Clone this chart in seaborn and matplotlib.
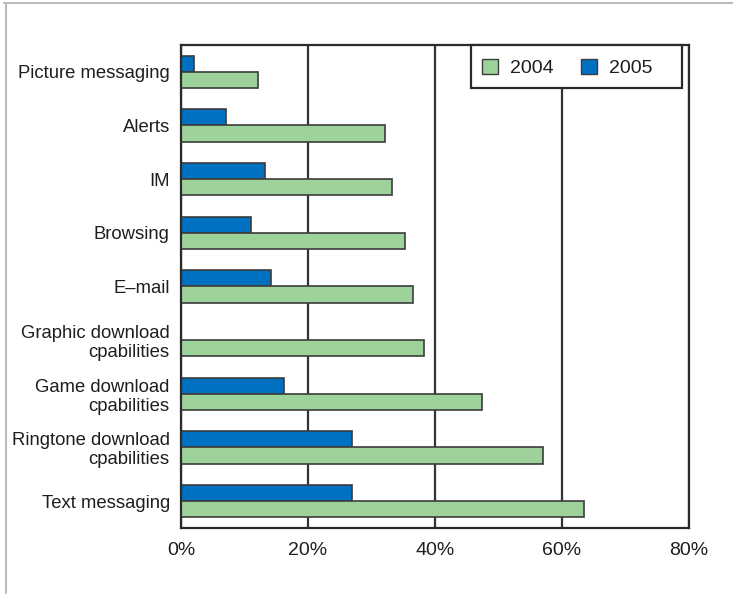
import numpy as np
import pandas as pd
import matplotlib
matplotlib.use("Agg")
import matplotlib.pyplot as plt
from matplotlib.patches import Patch, Rectangle
from matplotlib.lines import Line2D
import seaborn as sns

# Mobile data services usage, share of users
features = [
    "Picture messaging",
    "Alerts",
    "IM",
    "Browsing",
    "E–mail",
    "Graphic download\ncpabilities",
    "Game download\ncpabilities",
    "Ringtone download\ncpabilities",
    "Text messaging",
]
share_2004 = [12.2, 32.2, 33.2, 35.2, 36.5, 38.2, 47.4, 57.0, 63.4]
share_2005 = [2.0, 7.1, 13.2, 11.0, 14.1, np.nan, 16.2, 27.0, 27.0]
years = ["2004", "2005"]
x_ticks = [0, 20, 40, 60, 80]
x_tick_labels = ["0%", "20%", "40%", "60%", "80%"]

GREEN = "#9dd39b"
BLUE = "#0070c0"
EDGE = "#3c3c3c"
INK = "#1e1e1e"
FRAME = "#2a2a2a"

df = pd.DataFrame({
    "feature": features * 2,
    "year": [years[0]] * len(features) + [years[1]] * len(features),
    "share": share_2004 + share_2005,
}).dropna()

sns.set_style("white")
plt.rcParams["font.family"] = ["Liberation Sans", "DejaVu Sans"]

fig = plt.figure(figsize=(7.33, 5.95), dpi=100)
ax = fig.add_axes([0.2469, 0.1126, 0.6931, 0.8118])

sns.barplot(
    data=df, x="share", y="feature", hue="year",
    order=features, hue_order=["2005", "2004"],
    palette={"2004": GREEN, "2005": BLUE}, saturation=1,
    width=0.6, edgecolor=EDGE, linewidth=1.2,
    errorbar=None, orient="h", legend=False, ax=ax,
)

ax.set_xlim(0, 80)
ax.set_xticks(x_ticks)
ax.set_xticklabels(x_tick_labels)
ax.set_xlabel("")
ax.set_ylabel("")
ax.set_axisbelow(True)
ax.grid(axis="x", color="#333333", linewidth=1.6)
ax.grid(axis="y", visible=False)
for side in ["left", "right", "top", "bottom"]:
    ax.spines[side].set_visible(True)
    ax.spines[side].set_color(FRAME)
    ax.spines[side].set_linewidth(1.6)

ax.tick_params(axis="x", length=0, pad=10, labelsize=14, labelcolor=INK)
ax.tick_params(axis="y", length=0, pad=8, labelsize=13.3, labelcolor=INK)
for lab in ax.get_yticklabels():
    lab.set_horizontalalignment("right")
    lab.set_multialignment("right")
    lab.set_linespacing(1.15)

# legend box (opaque, covers the gridline behind it)
ax.add_patch(Rectangle((0.571, 0.910), 0.415, 0.090, transform=ax.transAxes,
                       facecolor="white", edgecolor=FRAME, linewidth=1.6,
                       zorder=4, clip_on=False))
handles = [
    Patch(facecolor=GREEN, edgecolor=EDGE, linewidth=1.0, label="2004"),
    Patch(facecolor=BLUE, edgecolor=EDGE, linewidth=1.0, label="2005"),
]
leg = ax.legend(
    handles=handles, loc="center left", bbox_to_anchor=(0.592, 0.952),
    ncol=2, frameon=False, borderaxespad=0, borderpad=0,
    fontsize=14, handlelength=0.82, handleheight=0.85, handletextpad=0.62,
    columnspacing=1.4,
)
leg.set_zorder(5)
for t in leg.get_texts():
    t.set_color(INK)

# thin grey frame along the top and left edges of the figure
fig.add_artist(Line2D([4 / 733, 1.0], [1 - 3 / 595, 1 - 3 / 595],
                      transform=fig.transFigure, color="#bbbbbb", linewidth=1.5))
fig.add_artist(Line2D([5.5 / 733, 5.5 / 733], [1 - 3 / 595, 1 - 593 / 595],
                      transform=fig.transFigure, color="#bbbbbb", linewidth=1.5))

fig.savefig("out.png", dpi=100)
